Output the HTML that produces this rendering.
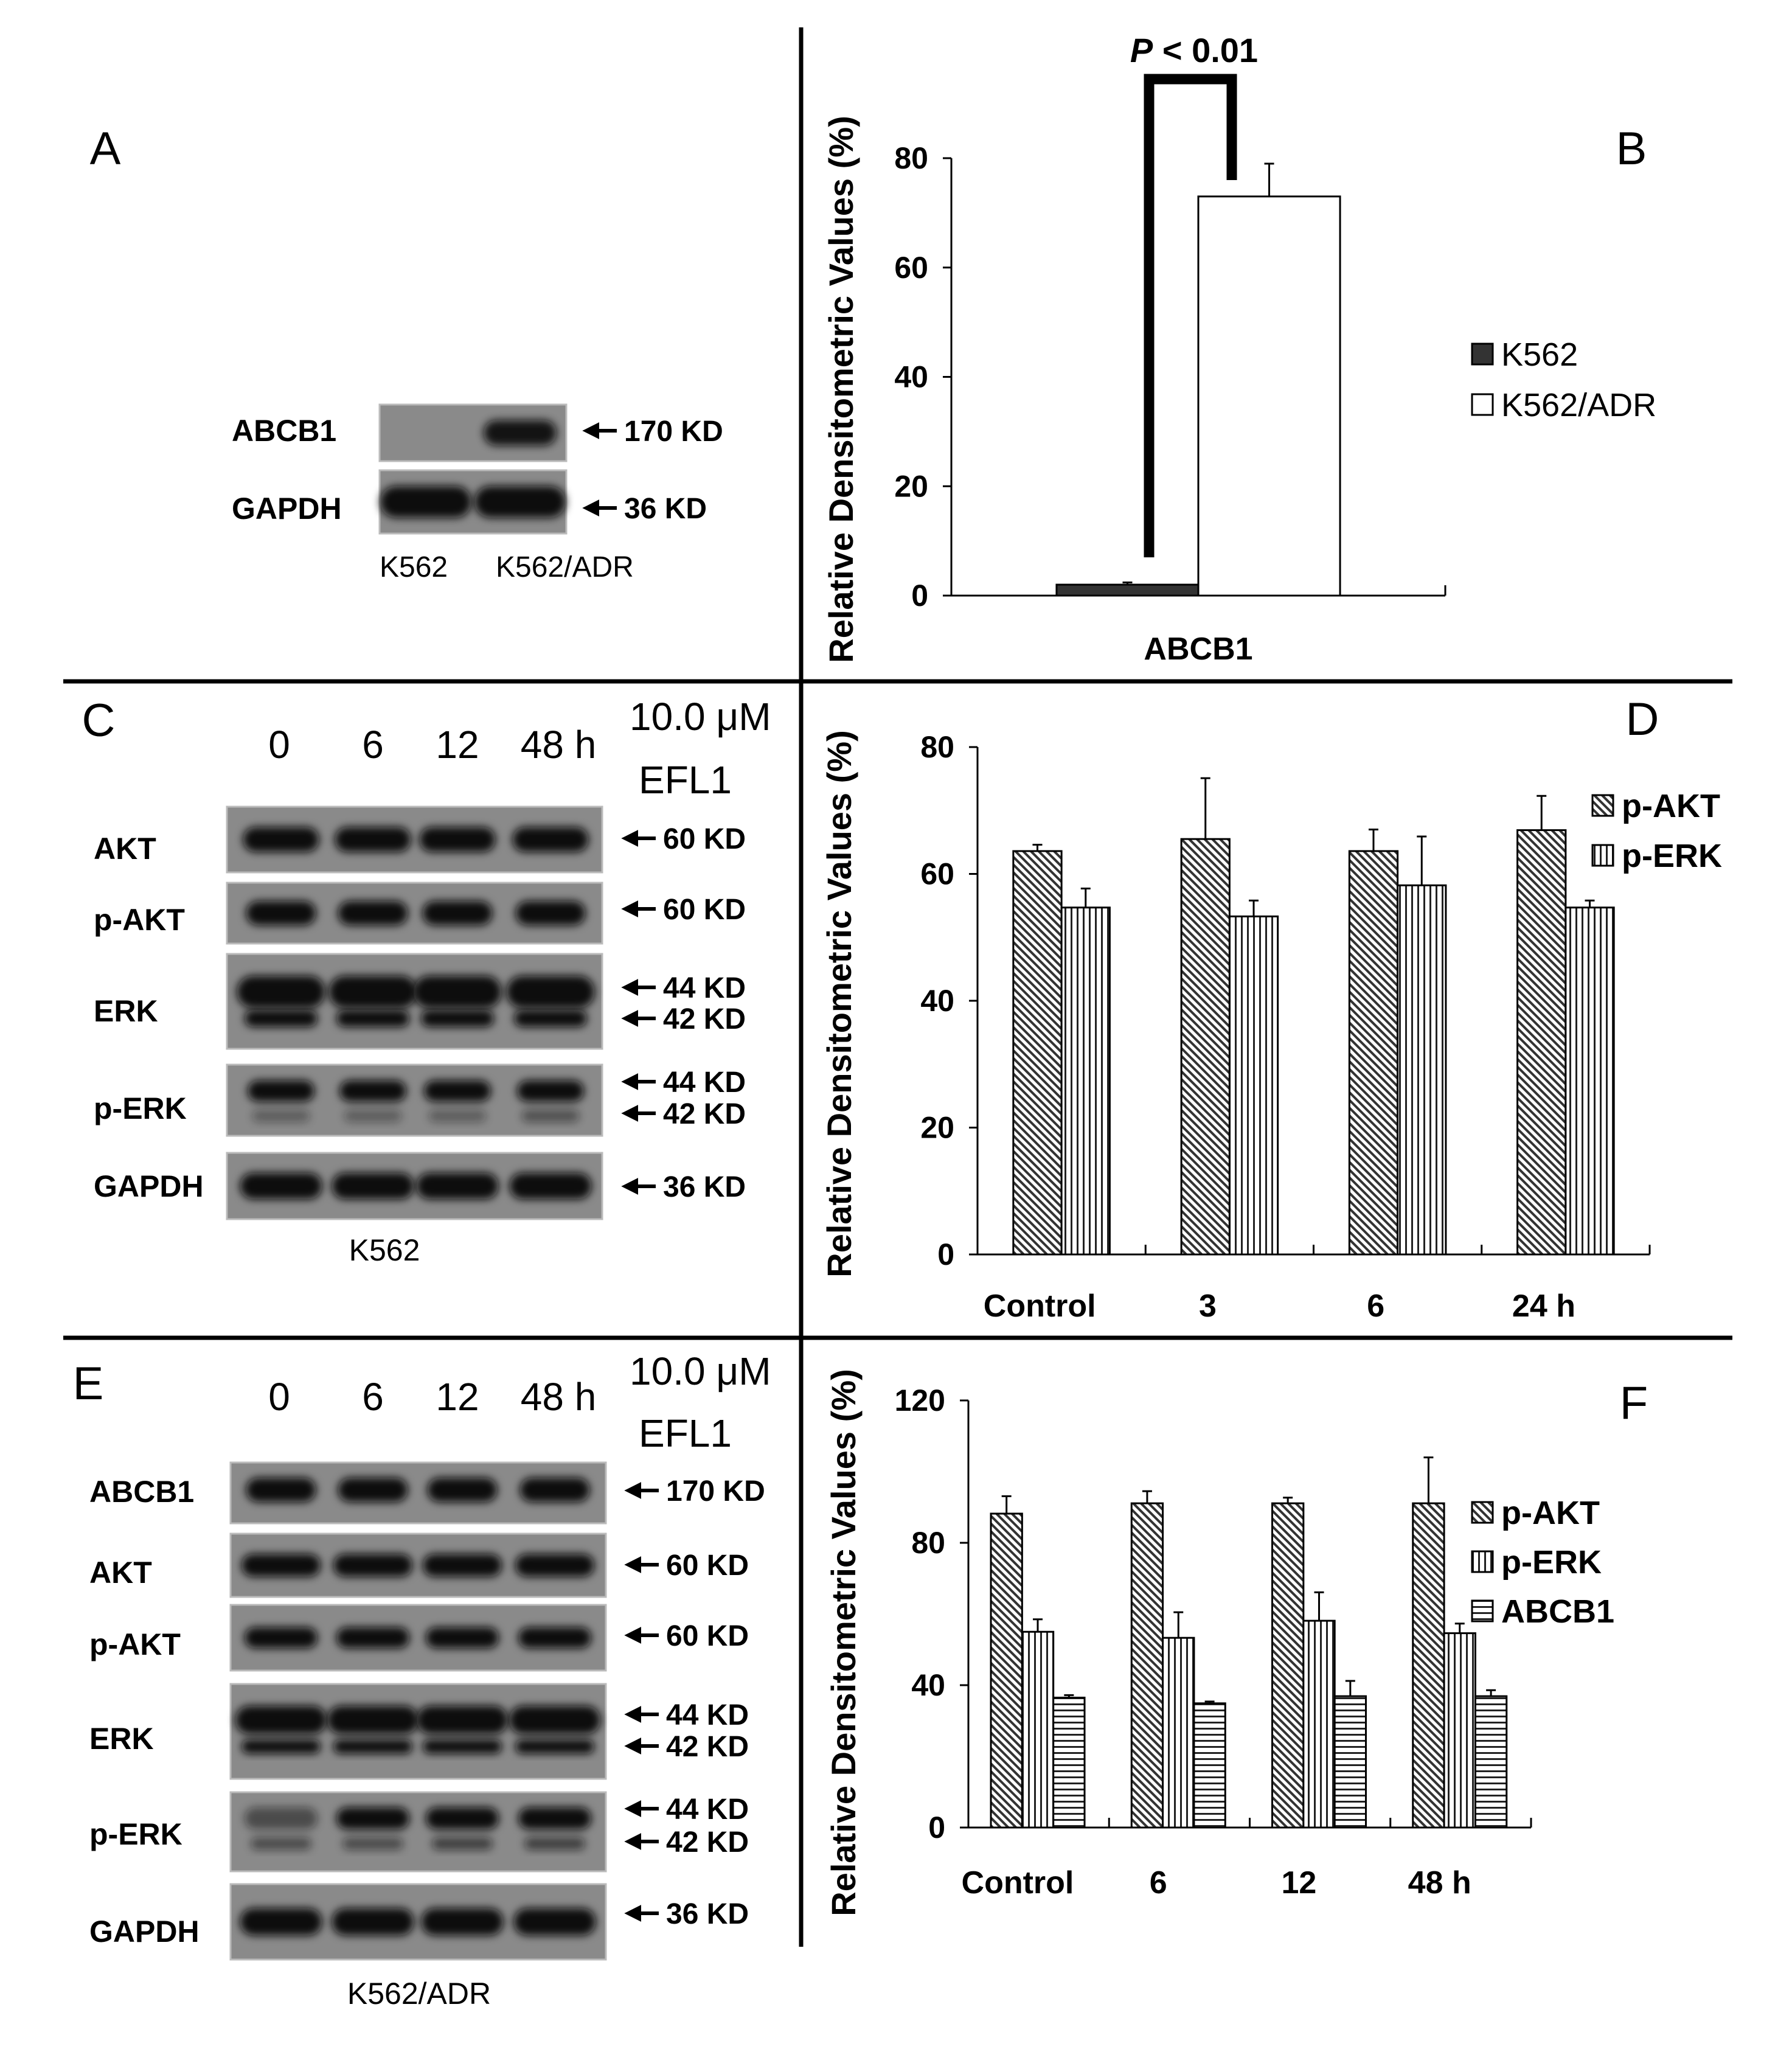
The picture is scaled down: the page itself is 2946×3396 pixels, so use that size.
<!DOCTYPE html>
<html><head><meta charset="utf-8"><style>
html,body{margin:0;padding:0;background:#fff}
svg{display:block}
text{font-family:"Liberation Sans",Arial,sans-serif}
</style></head><body>
<svg id="fig" xmlns="http://www.w3.org/2000/svg" width="2946" height="3396" viewBox="0 0 2946 3396">
<defs>
<filter id="blur" x="-20%" y="-50%" width="140%" height="200%"><feGaussianBlur stdDeviation="7"/></filter>
<pattern id="diag" patternUnits="userSpaceOnUse" width="9" height="9" patternTransform="rotate(-45)"><rect width="9" height="9" fill="#fff"/><rect width="4" height="9" fill="#333"/></pattern>
<pattern id="vert" patternUnits="userSpaceOnUse" width="10" height="10"><rect width="10" height="10" fill="#fff"/><rect width="3" height="10" fill="#222"/></pattern>
<pattern id="horz" patternUnits="userSpaceOnUse" width="10" height="10"><rect width="10" height="10" fill="#fff"/><rect width="10" height="3" fill="#222"/></pattern>
</defs>
<g>
<line x1="1317" y1="45" x2="1317" y2="3200" stroke="#000" stroke-width="7"/>
<line x1="104" y1="1120" x2="2848" y2="1120" stroke="#000" stroke-width="7"/>
<line x1="104" y1="2199" x2="2848" y2="2199" stroke="#000" stroke-width="7"/>
</g>
<g id="blots"></g>
<g id="charts"></g>
</svg>
<script>
// Panel B data
const bCategories = ["ABCB1"];
const bSeriesNames = ["K562", "K562/ADR"];
const bValues = [2, 73];
const bErrors = [2.4, 79];
const bTicks = [0, 20, 40, 60, 80];
// Panel D data
const dCategories = ["Control", "3", "6", "24 h"];
const dSeriesNames = ["p-AKT", "p-ERK"];
const dAKT = [63.6, 65.5, 63.6, 66.9];
const dAKTErr = [64.6, 75.1, 67.0, 72.3];
const dERK = [54.7, 53.3, 58.2, 54.7];
const dERKErr = [57.7, 55.8, 65.9, 55.8];
const dTicks = [0, 20, 40, 60, 80];
// Panel F data
const fCategories = ["Control", "6", "12", "48 h"];
const fSeriesNames = ["p-AKT", "p-ERK", "ABCB1"];
const fAKT = [88.2, 91.1, 91.1, 91.1];
const fAKTErr = [93.1, 94.5, 92.7, 104];
const fERK = [55.0, 53.3, 58.1, 54.6];
const fERKErr = [58.5, 60.5, 66.1, 57.3];
const fABCB1 = [36.5, 34.9, 36.9, 36.9];
const fABCB1Err = [37.2, 35.4, 41.2, 38.6];
const fTicks = [0, 40, 80, 120];

const NS = "http://www.w3.org/2000/svg";
function mk(parent, tag, attrs, txt){
  const e = document.createElementNS(NS, tag);
  for (const k in attrs) e.setAttribute(k, attrs[k]);
  if (txt !== undefined) e.textContent = txt;
  parent.appendChild(e);
  return e;
}
const charts = document.getElementById('charts');
const blots = document.getElementById('blots');

function txt(parent, x, y, s, size, opts){
  opts = opts || {};
  const t = mk(parent, 'text', {x:x, y:y, 'font-size':size, 'text-anchor':opts.anchor||'start', 'font-weight':opts.bold?'bold':'normal', 'font-style':opts.italic?'italic':'normal', fill:'#000'}, s);
  if (opts.transform) t.setAttribute('transform', opts.transform);
  
  
  return t;
}

function chart(cfg){
  const g = mk(charts, 'g', {});
  
  
  const y = v => cfg.y0 - (v - 0) / cfg.ymax * (cfg.y0 - cfg.ytop);
  const ax = mk(g, 'line', {x1:cfg.x0, y1:cfg.ytop, x2:cfg.x0, y2:cfg.y0, stroke:'#000', 'stroke-width':3});
  
  
  const xa = mk(g, 'line', {x1:cfg.x0, y1:cfg.y0, x2:cfg.x1, y2:cfg.y0, stroke:'#000', 'stroke-width':3});
  
  
  cfg.ticks.forEach(t => {
    mk(g, 'line', {x1:cfg.x0-14, y1:y(t), x2:cfg.x0, y2:y(t), stroke:'#000', 'stroke-width':3});
    txt(g, cfg.x0-38, y(t)+17, String(t), 50, {anchor:'end', bold:true, name:'y-tick-label'});
  });
  const n = cfg.categories.length;
  const gw = (cfg.x1 - cfg.x0) / n;
  for (let i = 1; i <= n; i++) {
    if (cfg.groupTicks) mk(g, 'line', {x1:cfg.x0+gw*i, y1:cfg.y0, x2:cfg.x0+gw*i, y2:cfg.y0-16, stroke:'#000', 'stroke-width':3});
  }
  cfg.categories.forEach((c, i) => {
    const gx = cfg.x0 + gw*i;
    cfg.series.forEach((s, j) => {
      const bx = gx + gw*cfg.offset + j*gw*cfg.bw;
      const v = s.values[i];
      const r = mk(g, 'rect', {x:bx, y:y(v), width:gw*cfg.bw, height:cfg.y0 - y(v), fill:s.fill, stroke:'#000', 'stroke-width':3});
      
      
      const cx = bx + gw*cfg.bw/2;
      const e = s.errs[i];
      const el = mk(g, 'path', {d:`M${cx},${y(v)}V${y(e)}M${cx-8},${y(e)}H${cx+8}`, stroke:'#000', 'stroke-width':3, fill:'none'});
      
      
    });
    txt(g, gx + gw*cfg.labelPos, cfg.labelY, c, 52, {anchor:'middle', bold:true, name:'x-category-label'});
  });
  txt(g, 0, 0, 'Relative Densitometric Values (%)', 56, {anchor:'middle', bold:true, name:'y-axis-title', transform:`translate(${cfg.titleX},${cfg.titleY}) rotate(-90)`});
  cfg.series.forEach((s, j) => {
    const ly = cfg.legY + j*cfg.legGap;
    const sq = mk(g, 'rect', {x:cfg.legX, y:ly-17, width:34, height:34, fill:s.fill, stroke:'#000', 'stroke-width':3});
    
    
    txt(g, cfg.legX+48, ly+19, s.name, 54, {bold:cfg.legBold, name:'legend-entry'});
  });
  return y;
}

// Panel B
const yB = chart({name:'chart-b', x0:1564, x1:2376, y0:979, ytop:260, ymax:80, ticks:bTicks, categories:bCategories,
  series:[{name:bSeriesNames[0], values:[bValues[0]], errs:[bErrors[0]], fill:'#333'},
          {name:bSeriesNames[1], values:[bValues[1]], errs:[bErrors[1]], fill:'#fff'}],
  offset:0.213, bw:0.287, labelPos:0.5, labelY:1084, groupTicks:false,
  titleX:1402, titleY:640, legX:2420, legY:582, legGap:83, legBold:false});
mk(charts,'line',{x1:2376,y1:979,x2:2376,y2:962,stroke:'#000','stroke-width':3});
(function(){
  const br = mk(charts, 'path', {d:`M1889,${yB(7)}V130H2025V${yB(76)}`, stroke:'#000', 'stroke-width':17, fill:'none'});
  
  
  const t = mk(charts, 'text', {x:1963, y:102, 'font-size':56, 'text-anchor':'middle', 'font-weight':'bold'});
  
  
  mk(t, 'tspan', {'font-style':'italic'}, 'P');
  mk(t, 'tspan', {}, ' < 0.01');
})();

// Panel D
chart({name:'chart-d', x0:1607, x1:2712, y0:2062, ytop:1228, ymax:80, ticks:dTicks, categories:dCategories,
  series:[{name:dSeriesNames[0], values:dAKT, errs:dAKTErr, fill:'url(#diag)'},
          {name:dSeriesNames[1], values:dERK, errs:dERKErr, fill:'url(#vert)'}],
  offset:0.213, bw:0.287, labelPos:0.37, labelY:2164, groupTicks:true,
  titleX:1399, titleY:1650, legX:2618, legY:1324, legGap:82, legBold:true});

// Panel F
chart({name:'chart-f', x0:1592, x1:2517, y0:3004, ytop:2302, ymax:120, ticks:fTicks, categories:fCategories,
  series:[{name:fSeriesNames[0], values:fAKT, errs:fAKTErr, fill:'url(#diag)'},
          {name:fSeriesNames[1], values:fERK, errs:fERKErr, fill:'url(#vert)'},
          {name:fSeriesNames[2], values:fABCB1, errs:fABCB1Err, fill:'url(#horz)'}],
  offset:0.16, bw:0.222, labelPos:0.35, labelY:3112, groupTicks:true,
  titleX:1406, titleY:2700, legX:2420, legY:2486, legGap:81, legBold:true});

// Panel letters
[['A',173,270],['B',2682,270],['C',162,1210],['D',2700,1208],['E',145,2300],['F',2686,2332]].forEach(l=>{
  txt(document.getElementById('fig'), l[1], l[2], l[0], 76, {anchor:'middle', name:'panel-letter-'+l[0].toLowerCase()});
});

// Blots
function blot(x1, x2, y1, y2, lanes, bands, name){
  const g = mk(blots, 'g', {});
  
  
  mk(g, 'rect', {x:x1, y:y1, width:x2-x1, height:y2-y1, fill:'#8a8a8a', stroke:'#bbb', 'stroke-width':3});
  const h = y2 - y1;
  bands.forEach(b => {
    lanes.forEach((lx, i) => {
      const op = b.op ? b.op[i] : 1;
      if (op <= 0) return;
      mk(g, 'rect', {x:lx - b.w/2, y:y1 + h*b.c - h*b.h/2, width:b.w, height:h*b.h, rx:h*b.h/2, fill:'#0b0b0b', opacity:op, filter:'url(#blur)'});
    });
  });
}
function arrowLabel(x, y, s){
  const a = mk(blots, 'path', {d:`M${x+50},${y}H${x+10}M${x},${y}l18,-9v18z`, stroke:'#000', 'stroke-width':6, fill:'#000'});
  
  
  txt(blots, x+62, y+17, s, 48, {bold:true, name:'molecular-weight-label'});
}
// Panel A
blot(624, 931, 665, 758, [700, 855], [{c:0.5, h:0.45, w:120, op:[0, 0.95]}], 'blot-a-abcb1');
blot(624, 931, 773, 877, [700, 855], [{c:0.5, h:0.5, w:150}], 'blot-a-gapdh');
txt(blots, 381, 725, 'ABCB1', 50, {bold:true, name:'row-label'});
txt(blots, 381, 853, 'GAPDH', 50, {bold:true, name:'row-label'});
arrowLabel(964, 708, '170 KD');
arrowLabel(964, 835, '36 KD');
txt(blots, 624, 948, 'K562', 48, {name:'lane-label'});
txt(blots, 815, 948, 'K562/ADR', 48, {name:'lane-label'});

// Panel C
const lanesC = [462, 613, 752, 905];
['0','6','12','48 h'].forEach((s,i)=>txt(blots, [459,613,752,918][i], 1246, s, 64, {anchor:'middle', name:'time-header'}));
txt(blots, 1035, 1200, '10.0 \u03bcM', 64, {name:'treatment-label'});
txt(blots, 1050, 1304, 'EFL1', 64, {name:'treatment-label'});
blot(373, 990, 1326, 1434, lanesC, [{c:0.5, h:0.38, w:125}], 'blot-c-akt');
blot(373, 990, 1451, 1551, lanesC, [{c:0.5, h:0.4, w:115}], 'blot-c-p-akt');
blot(373, 990, 1568, 1724, lanesC, [{c:0.4, h:0.34, w:145},{c:0.68, h:0.18, w:120}], 'blot-c-erk');
blot(373, 990, 1750, 1867, lanesC, [{c:0.37, h:0.3, w:110},{c:0.72, h:0.18, w:95, op:[0.35,0.35,0.35,0.45]}], 'blot-c-p-erk');
blot(373, 990, 1895, 2004, lanesC, [{c:0.5, h:0.4, w:135}], 'blot-c-gapdh');
[['AKT',1395],['p-AKT',1512],['ERK',1662],['p-ERK',1822],['GAPDH',1950]].forEach(r=>txt(blots, 154, r[1]+17, r[0], 50, {bold:true, name:'row-label'}));
arrowLabel(1028, 1378, '60 KD');
arrowLabel(1028, 1494, '60 KD');
arrowLabel(1028, 1623, '44 KD');
arrowLabel(1028, 1674, '42 KD');
arrowLabel(1028, 1778, '44 KD');
arrowLabel(1028, 1830, '42 KD');
arrowLabel(1028, 1950, '36 KD');
txt(blots, 632, 2072, 'K562', 50, {anchor:'middle', name:'cell-line-label'});

// Panel E
const lanesE = [462, 613, 760, 912];
['0','6','12','48 h'].forEach((s,i)=>txt(blots, [459,613,752,918][i], 2318, s, 64, {anchor:'middle', name:'time-header'}));
txt(blots, 1035, 2276, '10.0 \u03bcM', 64, {name:'treatment-label'});
txt(blots, 1050, 2378, 'EFL1', 64, {name:'treatment-label'});
blot(379, 996, 2404, 2504, lanesE, [{c:0.45, h:0.4, w:115}], 'blot-e-abcb1');
blot(379, 996, 2521, 2625, lanesE, [{c:0.5, h:0.36, w:130}], 'blot-e-akt');
blot(379, 996, 2638, 2746, lanesE, [{c:0.5, h:0.32, w:120}], 'blot-e-p-akt');
blot(379, 996, 2768, 2924, lanesE, [{c:0.38, h:0.3, w:150},{c:0.66, h:0.15, w:130}], 'blot-e-erk');
blot(379, 996, 2946, 3076, lanesE, [{c:0.33, h:0.28, w:120, op:[0.5,1,1,1]},{c:0.65, h:0.16, w:100, op:[0.5,0.5,0.6,0.6]}], 'blot-e-p-erk');
blot(379, 996, 3097, 3221, lanesE, [{c:0.5, h:0.36, w:135}], 'blot-e-gapdh');
[['ABCB1',2452],['AKT',2585],['p-AKT',2703],['ERK',2858],['p-ERK',3015],['GAPDH',3175]].forEach(r=>txt(blots, 147, r[1]+17, r[0], 50, {bold:true, name:'row-label'}));
arrowLabel(1033, 2450, '170 KD');
arrowLabel(1033, 2572, '60 KD');
arrowLabel(1033, 2688, '60 KD');
arrowLabel(1033, 2818, '44 KD');
arrowLabel(1033, 2870, '42 KD');
arrowLabel(1033, 2973, '44 KD');
arrowLabel(1033, 3027, '42 KD');
arrowLabel(1033, 3145, '36 KD');
txt(blots, 689, 3294, 'K562/ADR', 50, {anchor:'middle', name:'cell-line-label'});
</script>
</body></html>
